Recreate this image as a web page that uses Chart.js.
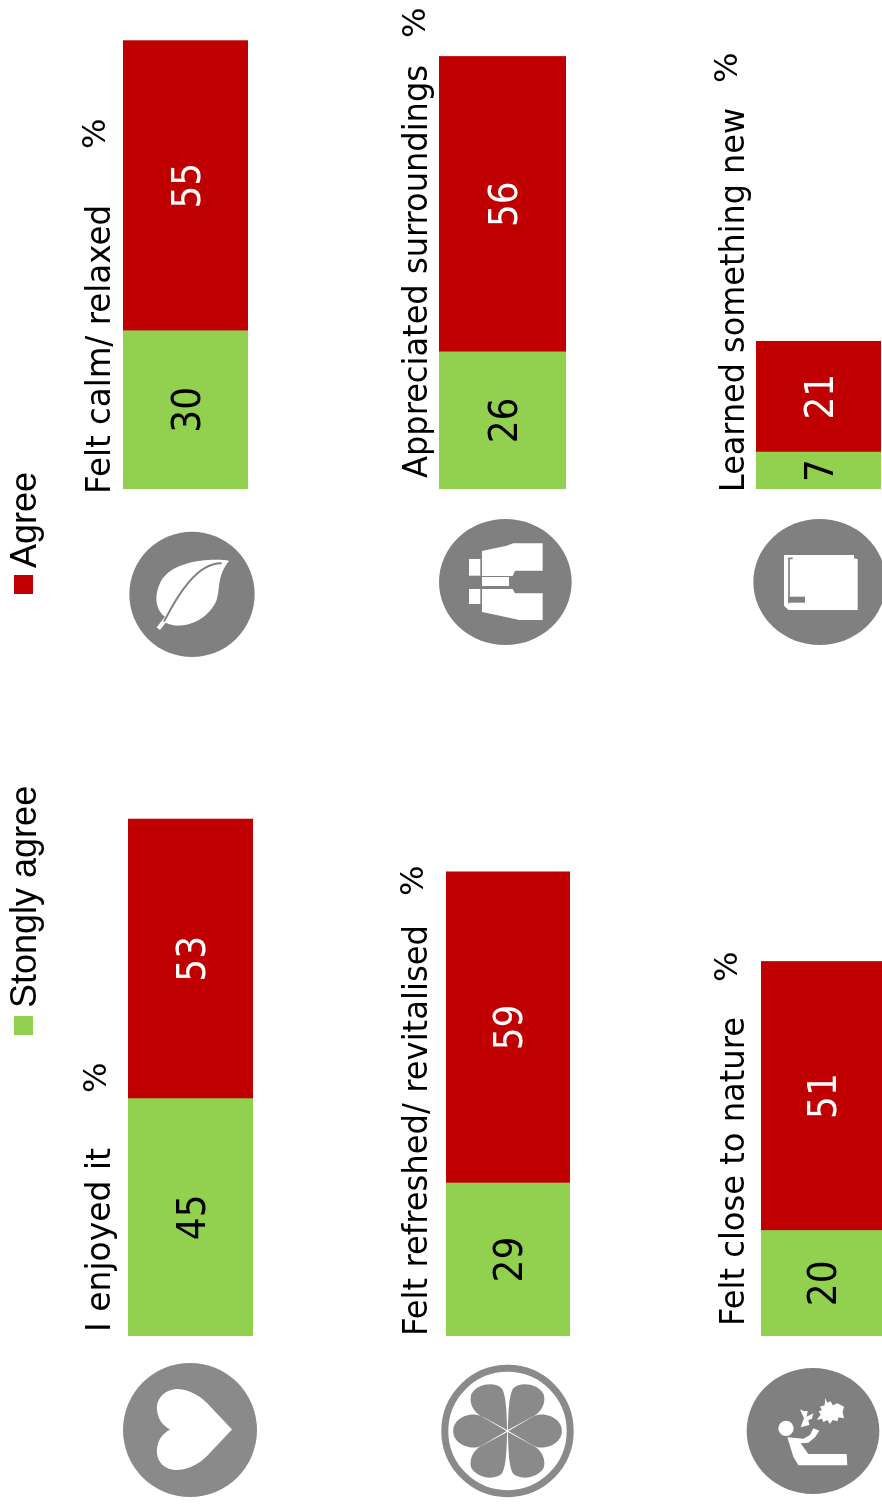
<!DOCTYPE html>
<html>
<head>
<meta charset="utf-8">
<title>Agreement statements</title>
<script src="https://cdn.jsdelivr.net/npm/chart.js@4"></script>
<style>
  html, body { margin: 0; padding: 0; background: #fff; }
  #page { position: relative; width: 882px; height: 1506px; overflow: hidden; }
  /* the whole picture lies on its side, so the bars are built in a turned frame */
  #turned { position: absolute; left: 0; top: 1506px; width: 1506px; height: 882px; transform-origin: 0 0; transform: rotate(-90deg); }
  #turned canvas { position: absolute; }
  #overlay { position: absolute; left: 0; top: 0; }
</style>
</head>
<body>
<div id="page">
  <div id="turned"></div>
  <svg id="overlay" width="882" height="1506" viewBox="0 0 882 1506" xmlns="http://www.w3.org/2000/svg">
    <defs>
      <path id="petalSide" d="M3,0 L78,-44 C110,-60 163,-40 163,0 C163,40 110,60 78,44 Z" fill="#8a8a8a"/>
      <path id="petalTop" d="M1,-3 C3,-52 3,-102 16,-127 C36,-148 88,-144 108,-112 C118,-82 98,-52 73,-42 Z" fill="#8a8a8a"/>
    </defs>

    <!-- heart -->
    <circle cx="190" cy="1430" r="67" fill="#8a8a8a"/>
    <path d="M232,1429.5 L207,1403 C197,1393 185,1389 177,1389 C163,1390 156,1400 157,1410 C158,1419 162,1425 170,1429.5 C162,1434 158,1440 157,1449 C156,1460 163,1470 177,1470 C185,1470 197,1466 207,1456 Z" fill="#fff"/>

    <!-- flower -->
    <circle cx="507.5" cy="1431" r="62.7" fill="#fff" stroke="#8a8a8a" stroke-width="7"/>
    <g transform="translate(507.5,1431) scale(0.33333)">
      <use href="#petalSide"/>
      <use href="#petalSide" transform="scale(-1,1)"/>
      <use href="#petalTop"/>
      <use href="#petalTop" transform="scale(-1,1)"/>
      <use href="#petalTop" transform="scale(1,-1)"/>
      <use href="#petalTop" transform="scale(-1,-1)"/>
    </g>

    <!-- person and butterfly -->
    <g transform="translate(380,1200) scale(0.33333)">
      <ellipse cx="1299" cy="693" rx="199" ry="189" fill="#808080"/>
      <circle cx="1218" cy="685" r="23" fill="#fff"/>
      <path d="M1222,712 L1270,716 L1290,705 L1300,685 L1318,692 L1305,712 L1285,728 L1262,730 L1285,762 L1400,762 L1402,796 L1255,796 L1240,770 Z" fill="#fff"/>
      <path d="M1260,628 L1272,634 L1283,632 L1280,650 L1300,640 L1296,656 L1285,660 L1288,675 L1262,682 L1272,655 Z" fill="#fff"/>
      <path d="M1336,594 L1342,608 L1352,604 L1358,616 L1372,610 L1392,620 L1388,636 L1392,655 L1376,652 L1372,664 L1358,660 L1350,672 L1342,660 L1330,666 L1326,656 L1310,660 L1322,644 L1316,634 L1326,630 L1320,620 L1334,616 Z" fill="#fff"/>
    </g>

    <!-- leaf -->
    <g transform="translate(0,440) scale(0.33333)">
      <circle cx="576" cy="463" r="188" fill="#808080"/>
      <path d="M687,362 C640,355 520,358 482,425 C460,470 468,510 495,530 L470,562 L480,570 L497,548 C540,570 620,550 650,480 C662,440 650,410 687,362 Z" fill="#fff"/>
      <path d="M492,545 C530,470 590,368 665,370" fill="none" stroke="#808080" stroke-width="6"/>
    </g>

    <!-- binoculars and book -->
    <g transform="translate(400,440) scale(0.33333)">
      <ellipse cx="316" cy="426" rx="199" ry="189" fill="#808080"/>
      <path d="M246,333 L320,317 L340,310 L428,310 L428,392 L345,392 L338,408 L246,408 Z" fill="#fff"/>
      <path d="M246,447 L338,447 L345,460 L428,460 L428,540 L358,540 L300,527 L246,516 Z" fill="#fff"/>
      <rect x="246" y="411" width="81" height="27" fill="#fff"/>
      <rect x="207" y="357" width="34" height="50" fill="#fff"/>
      <rect x="207" y="447" width="34" height="45" fill="#fff"/>

      <ellipse cx="1259" cy="426" rx="199" ry="189" fill="#808080"/>
      <path d="M1152,345 L1362,345 L1362,355 L1373,357 L1373,510 L1165,510 L1152,497 Z" fill="#fff"/>
      <path d="M1178,355 L1167,355 L1167,490" fill="none" stroke="#808080" stroke-width="5"/>
      <rect x="1165" y="470" width="50" height="18" fill="#808080"/>
    </g>
  </svg>
</div>

<script>
const categories    = ['I enjoyed it', 'Felt refreshed/ revitalised', 'Felt close to nature', 'Felt calm/ relaxed', 'Appreciated surroundings', 'Learned something new'];
const stronglyAgree = [45, 29, 20, 30, 26, 7];
const agree         = [53, 59, 51, 55, 56, 21];
const seriesNames   = ['Stongly agree', 'Agree'];
const unitLabel     = '%';

const GREEN = '#92D050';
const RED   = '#C00000';
const PX_PER_UNIT = 5.275;

// where each small chart sits in the picture: bar edges across, and the bar's base line
const boxes = [
  { x0: 128, x1: 253, base: 1336, width: 528 },
  { x0: 446, x1: 570, base: 1336, width: 528 },
  { x0: 761, x1: 882, base: 1336, width: 528 },
  { x0: 123, x1: 248, base: 489,  width: 475 },
  { x0: 439, x1: 566, base: 489,  width: 475 },
  { x0: 756, x1: 881, base: 489,  width: 475 },
];
// len = run of the caption along the bar, the reference face sets tighter than DejaVu
const labelSpots = [
  { x: 110, y: 1332, len: 184, pctX: 106, pctY: 1093 },
  { x: 427, y: 1336, len: 411, pctX: 423, pctY: 896 },
  { x: 744, y: 1326, len: 309, pctX: 737, pctY: 982 },
  { x: 110, y: 494,  len: 289, pctX: 105, pctY: 149 },
  { x: 427, y: 478,  len: 413, pctX: 425, pctY: 38 },
  { x: 744, y: 492,  len: 384, pctX: 737, pctY: 83 },
];

// value printed in the middle of each bar segment
const segmentValues = {
  id: 'segmentValues',
  afterDatasetsDraw(chart) {
    const ctx = chart.ctx;
    chart.data.datasets.forEach((ds, i) => {
      const c = chart.getDatasetMeta(i).data[0].getCenterPoint();
      ctx.save();
      ctx.translate(c.x, c.y + 4);
      ctx.scale(1, 1.08);
      ctx.font = '36px "DejaVu Sans"';
      ctx.textAlign = 'center';
      ctx.textBaseline = 'middle';
      ctx.fillStyle = i === 0 ? '#000' : '#fff';
      ctx.fillText(String(ds.data[0]), 0, 0);
      ctx.restore();
    });
  }
};

const turned = document.getElementById('turned');
boxes.forEach((box, i) => {
  const canvas = document.createElement('canvas');
  canvas.width  = box.width;
  canvas.height = box.x1 - box.x0;
  canvas.style.left = (1506 - box.base) + 'px';
  canvas.style.top  = box.x0 + 'px';
  turned.appendChild(canvas);

  new Chart(canvas, {
    type: 'bar',
    data: {
      labels: [categories[i]],
      datasets: [
        { label: seriesNames[0], data: [stronglyAgree[i]], backgroundColor: GREEN, borderWidth: 0 },
        { label: seriesNames[1], data: [agree[i]], backgroundColor: RED, borderWidth: 0 },
      ]
    },
    options: {
      indexAxis: 'y',
      responsive: false,
      animation: false,
      layout: { padding: 0 },
      plugins: { legend: { display: false }, tooltip: { enabled: false } },
      datasets: { bar: { barPercentage: 1, categoryPercentage: 1 } },
      scales: {
        x: { display: false, stacked: true, min: 0, max: box.width / PX_PER_UNIT },
        y: { display: false, stacked: true },
      }
    },
    plugins: [segmentValues]
  });
});

// turned text on the overlay
const overlay = document.getElementById('overlay');
function addText(str, x, y, font, size, len) {
  const t = document.createElementNS('http://www.w3.org/2000/svg', 'text');
  t.setAttribute('transform', `translate(${x},${y}) rotate(-90)`);
  t.setAttribute('font-family', font);
  t.setAttribute('font-size', size);
  t.setAttribute('fill', '#000');
  if (len) {
    t.setAttribute('textLength', len);
    t.setAttribute('lengthAdjust', 'spacingAndGlyphs');
  }
  t.textContent = str;
  overlay.appendChild(t);
}
function addSquare(x, y, color) {
  const r = document.createElementNS('http://www.w3.org/2000/svg', 'rect');
  r.setAttribute('x', x); r.setAttribute('y', y);
  r.setAttribute('width', 19); r.setAttribute('height', 19);
  r.setAttribute('fill', color);
  overlay.appendChild(r);
}

categories.forEach((name, i) => {
  const s = labelSpots[i];
  addText(name, s.x, s.y, 'DejaVu Sans', 33, s.len);
  addText(unitLabel, s.pctX, s.pctY, 'DejaVu Sans', 32);
});

addSquare(14, 1016, GREEN);
addSquare(14, 575, RED);
addText(seriesNames[0], 36, 1008, 'Liberation Sans', 36);
addText(seriesNames[1], 36, 568, 'Liberation Sans', 36);
</script>
</body>
</html>
